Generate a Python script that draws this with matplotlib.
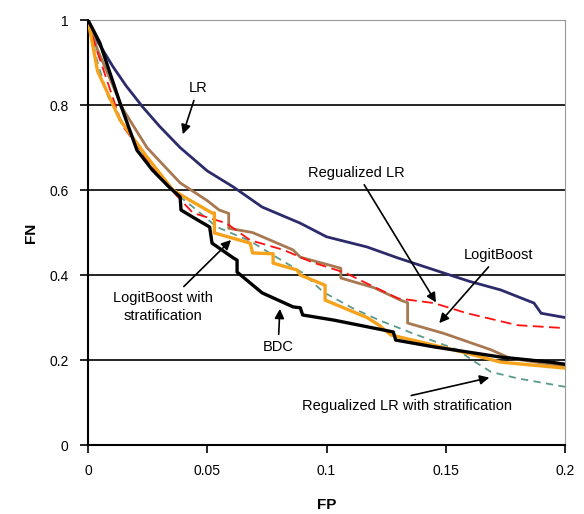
import matplotlib
matplotlib.use('Agg')
import matplotlib.pyplot as plt

plt.rcParams['font.family'] = ['Liberation Sans', 'DejaVu Sans']

# FP / FN points
lr_fp = [0, 0.004, 0.0105, 0.016, 0.023, 0.03, 0.0386, 0.05, 0.061, 0.073, 0.089, 0.1,
         0.117, 0.13, 0.149, 0.16, 0.173, 0.187, 0.19, 0.2]
lr_fn = [1.0, 0.95, 0.89, 0.845, 0.795, 0.75, 0.70, 0.645, 0.607, 0.56, 0.522, 0.49,
         0.466, 0.44, 0.405, 0.385, 0.365, 0.334, 0.31, 0.30]

reg_fp = [0, 0.003, 0.0143, 0.025, 0.035, 0.044, 0.058, 0.068, 0.082, 0.094, 0.108,
          0.117, 0.13, 0.145, 0.159, 0.18, 0.2]
reg_fn = [1.0, 0.94, 0.753, 0.67, 0.60, 0.546, 0.522, 0.482, 0.459, 0.43, 0.405,
          0.38, 0.345, 0.334, 0.31, 0.282, 0.275]

regs_fp = [0, 0.004, 0.0084, 0.0126, 0.025, 0.035, 0.044, 0.054, 0.068, 0.079, 0.09,
           0.0986, 0.111, 0.122, 0.136, 0.155, 0.161, 0.169, 0.18, 0.2]
regs_fn = [1.0, 0.90, 0.82, 0.776, 0.67, 0.60, 0.56, 0.513, 0.48, 0.442, 0.405,
           0.36, 0.322, 0.294, 0.263, 0.224, 0.20, 0.172, 0.157, 0.137]

lb_fp = [0, 0.004, 0.0147, 0.0247, 0.0386, 0.05, 0.055, 0.059, 0.059, 0.069, 0.086,
         0.089, 0.106, 0.106, 0.12, 0.131, 0.134, 0.134, 0.149, 0.169, 0.177, 0.2]
lb_fn = [1.0, 0.93, 0.79, 0.70, 0.617, 0.575, 0.553, 0.545, 0.51, 0.50, 0.459,
         0.442, 0.416, 0.393, 0.37, 0.341, 0.335, 0.287, 0.263, 0.224, 0.204, 0.185]

lbs_fp = [0, 0.004, 0.0134, 0.0247, 0.0356, 0.0415, 0.052, 0.053, 0.053, 0.068, 0.069,
          0.0776, 0.0776, 0.0876, 0.089, 0.0994, 0.0994, 0.117, 0.122, 0.127, 0.145,
          0.159, 0.173, 0.2]
lbs_fn = [1.0, 0.88, 0.765, 0.678, 0.60, 0.58, 0.546, 0.546, 0.499, 0.475, 0.452,
          0.45, 0.428, 0.412, 0.40, 0.376, 0.341, 0.30, 0.282, 0.259, 0.235,
          0.216, 0.195, 0.181]

bdc_fp = [0, 0.005, 0.0134, 0.0205, 0.027, 0.034, 0.0386, 0.039, 0.044, 0.051, 0.052,
          0.061, 0.0625, 0.0625, 0.073, 0.086, 0.089, 0.09, 0.103, 0.128, 0.129,
          0.145, 0.173, 0.194, 0.2]
bdc_fn = [1.0, 0.946, 0.805, 0.694, 0.647, 0.607, 0.584, 0.553, 0.536, 0.513, 0.475,
          0.44, 0.435, 0.407, 0.358, 0.325, 0.323, 0.306, 0.294, 0.266, 0.247,
          0.231, 0.207, 0.195, 0.19]

fig = plt.figure(figsize=(5.84, 5.14), dpi=100)
ax = fig.add_axes([0.1507, 0.1342, 0.8168, 0.8268])

for y in [0.2, 0.4, 0.6, 0.8]:
    ax.axhline(y, color='black', lw=1.2, zorder=1)

ax.plot(lr_fp, lr_fn, color='#2B2B6B', lw=2, zorder=3)
ax.plot(lb_fp, lb_fn, color='#A87850', lw=2, zorder=3)
ax.plot(regs_fp, regs_fn, color='#5A9A8C', lw=1.3, dashes=(4, 3), zorder=4)
ax.plot(reg_fp, reg_fn, color='#FF1010', lw=1.3, dashes=(6, 3), zorder=4)
ax.plot(lbs_fp, lbs_fn, color='#F7A21B', lw=2.4, zorder=5)
ax.plot(bdc_fp, bdc_fn, color='black', lw=2.4, zorder=6)

ax.set_xlim(0, 0.2)
ax.set_ylim(0, 1)
ax.set_xticks([0, 0.05, 0.1, 0.15, 0.2])
ax.set_xticklabels(['0', '0.05', '0.1', '0.15', '0.2'])
ax.set_yticks([0, 0.2, 0.4, 0.6, 0.8, 1])
ax.set_yticklabels(['0', '0.2', '0.4', '0.6', '0.8', '1'])
ax.tick_params(direction='out', length=6, width=1.2, labelsize=10, pad=8)

ax.spines['top'].set_color('#999999')
ax.spines['right'].set_color('#999999')
ax.spines['left'].set_linewidth(1.5)
ax.spines['bottom'].set_linewidth(1.5)

ax.set_xlabel('FP', fontsize=11, fontweight='bold', labelpad=14)
ax.set_ylabel('FN', fontsize=11, fontweight='bold', labelpad=8)

arrow = dict(arrowstyle='-|>', color='black', lw=1.2, mutation_scale=14)
ax.annotate('LR', xy=(0.0394, 0.725), xytext=(0.0461, 0.84),
            ha='center', va='center', fontsize=10.5, arrowprops=arrow)
ax.annotate('Regualized LR', xy=(0.1465, 0.33), xytext=(0.1127, 0.641),
            ha='center', va='center', fontsize=10.5, arrowprops=arrow)
ax.annotate('LogitBoost', xy=(0.1465, 0.282), xytext=(0.1723, 0.447),
            ha='center', va='center', fontsize=10.5, arrowprops=arrow)
ax.annotate('LogitBoost with\nstratification', xy=(0.0608, 0.487), xytext=(0.0315, 0.325),
            ha='center', va='center', fontsize=10.5, arrowprops=arrow, linespacing=1.3)
ax.annotate('BDC', xy=(0.0805, 0.327), xytext=(0.0797, 0.231),
            ha='center', va='center', fontsize=10.5, arrowprops=arrow)
ax.annotate('Regualized LR with stratification', xy=(0.1694, 0.16), xytext=(0.1337, 0.092),
            ha='center', va='center', fontsize=10.5,
            arrowprops=dict(arrowstyle='-|>', color='black', lw=1.2, mutation_scale=14,
                            relpos=(0.45, 1.0)))

fig.savefig('out.png', dpi=100)
